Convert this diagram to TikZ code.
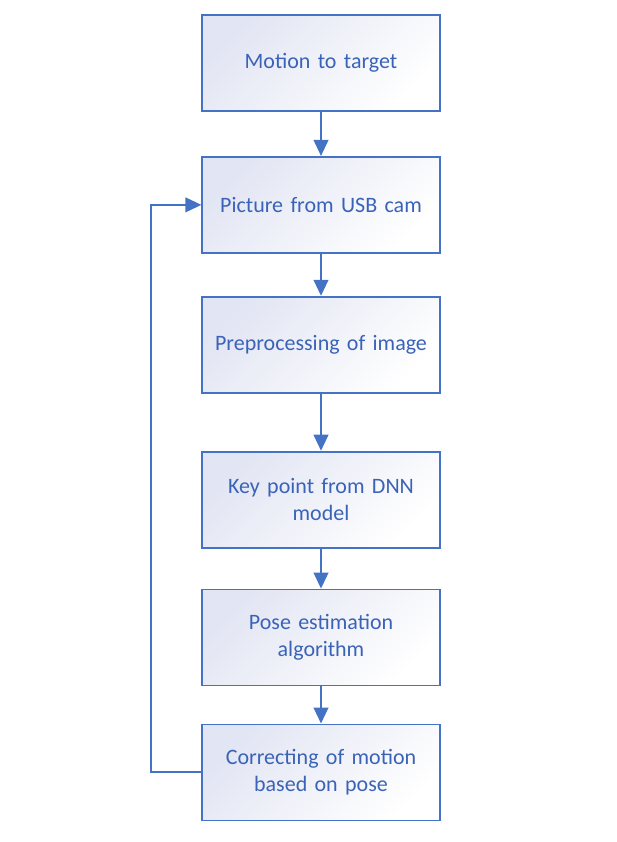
\documentclass[tikz,border=0pt]{standalone}
\usepackage{fontspec}
\setmainfont{Carlito}
\usetikzlibrary{positioning,arrows.meta}

\definecolor{edgeblue}{HTML}{4472C4}
\definecolor{textblue}{HTML}{3A63B8}
\definecolor{boxtint}{HTML}{E2E5F3}

\begin{document}
\begin{tikzpicture}[
  stepbox/.style={rectangle, draw=edgeblue, line width=1.4pt, align=center,
    top color=boxtint, bottom color=white, shading angle=45,
    minimum width=178pt, minimum height=72pt, text width=160pt,
    font=\fontsize{16.5}{20}\selectfont, text=textblue},
  arrow/.style={-{Triangle[length=12pt,width=11pt]}, line width=1.5pt, draw=edgeblue},
]
\useasboundingbox (0,0) rectangle (462.75pt,-631.5pt);

% === Main chain ===
\node[stepbox] (target) at (240.75pt,-47.25pt) {Motion to target};
\node[stepbox, below=33pt of target] (usb) {Picture from USB cam};
\node[stepbox, below=31.5pt of usb] (prep) {Preprocessing of image};
\node[stepbox, below=42.8pt of prep] (dnn) {Key point from DNN\\model};
\node[stepbox, below=30pt of dnn] (pose) {Pose estimation\\algorithm};
\node[stepbox, below=27.8pt of pose] (fix) {Correcting of motion\\based on pose};

\draw[arrow] (target) -- (usb);
\draw[arrow] (usb) -- (prep);
\draw[arrow] (prep) -- (dnn);
\draw[arrow] (dnn) -- (pose);
\draw[arrow] (pose) -- (fix);

% === Feedback loop ===
\draw[arrow] (fix.west) -- ++(-38pt,0) |- (usb.west);

\end{tikzpicture}
\end{document}
